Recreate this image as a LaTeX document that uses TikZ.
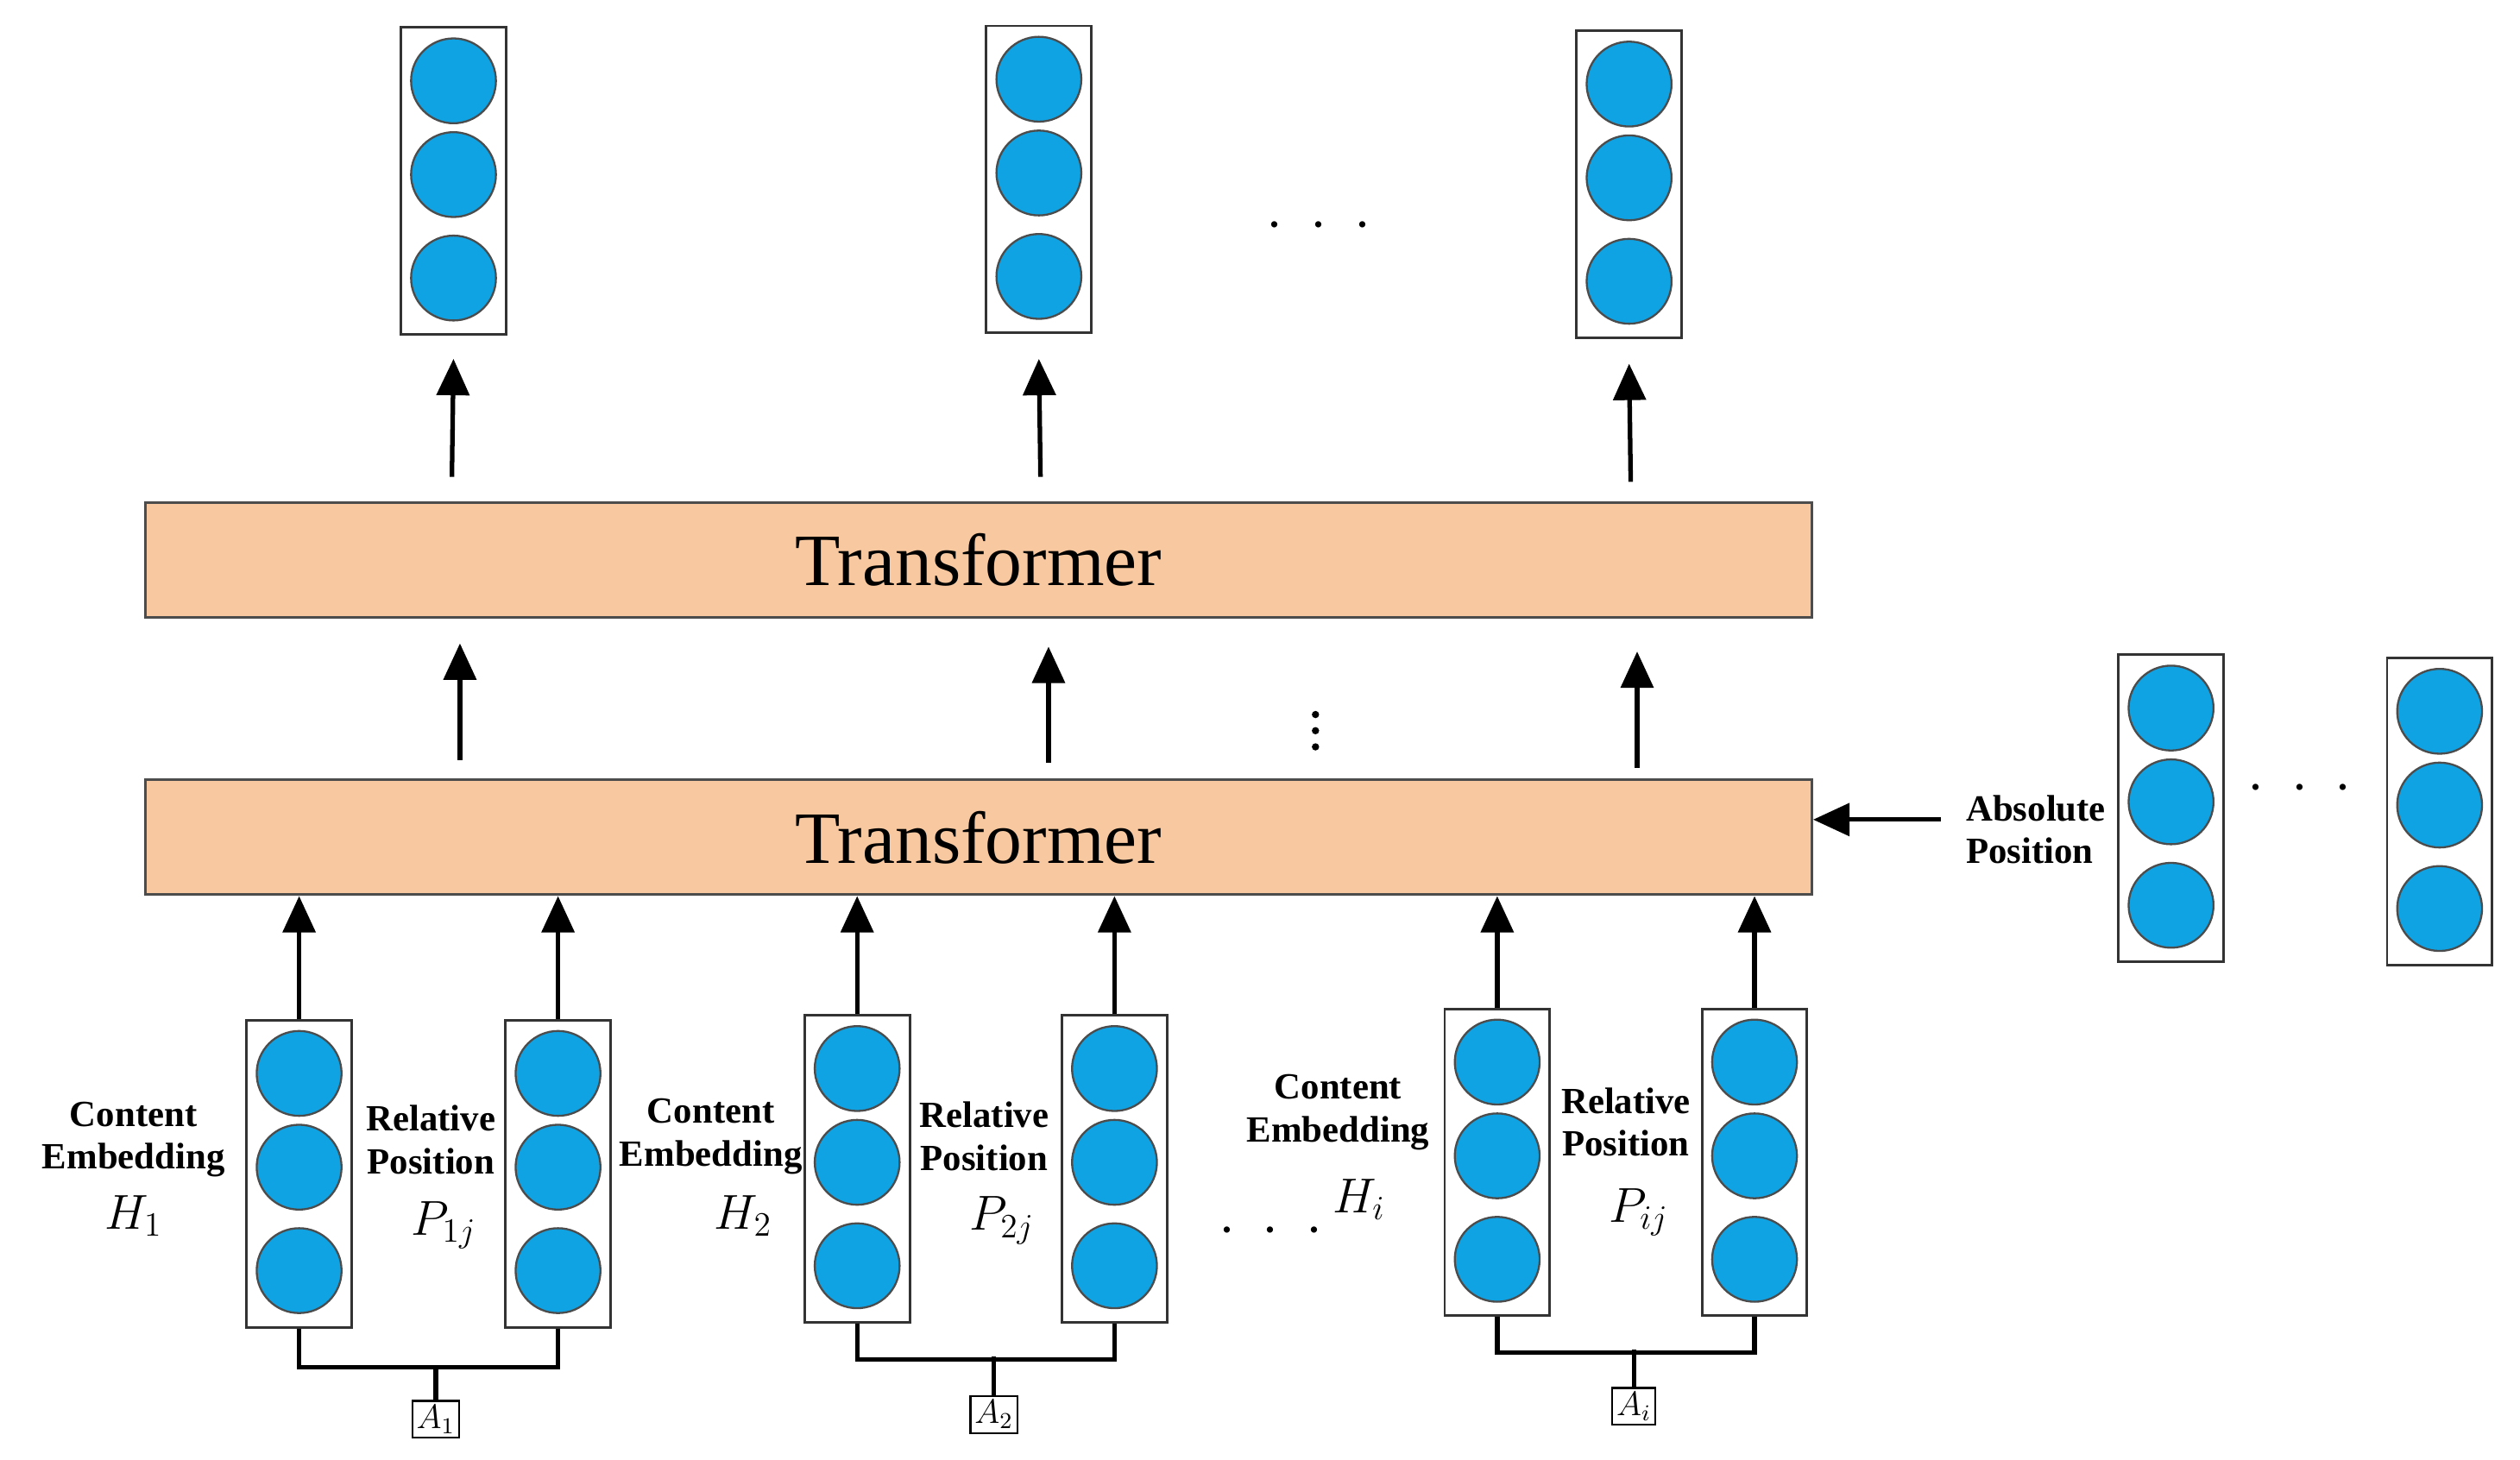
\documentclass[tikz,border=0pt]{standalone}
\usepackage{fontspec}
\setmainfont{Liberation Serif}
\usetikzlibrary{arrows.meta}
\definecolor{cblue}{HTML}{0FA3E4}
\definecolor{peach}{HTML}{F8C9A0}
\tikzset{
 col/.style={draw=black!80,line width=0.9pt,fill=white,minimum width=1.3cm,minimum height=3.8cm,inner sep=0},
 dot/.style={circle,draw=black!70,line width=0.7pt,fill=cblue,minimum size=1.05cm,inner sep=0},
 tr/.style={draw=black!70,line width=0.9pt,fill=peach,minimum width=20.62cm,minimum height=1.42cm,font=\fontsize{26}{28}\selectfont},
 arr/.style={-{Triangle[length=0.45cm,width=0.4cm]},line width=1.6pt},
 lbl/.style={font=\fontsize{13}{15}\selectfont\bfseries,align=center,inner sep=0},
 mth/.style={font=\fontsize{17}{19}\selectfont,inner sep=0},
 abox/.style={draw,line width=0.7pt,inner sep=1.5pt,font=\fontsize{12}{14}\selectfont},
 brk/.style={line width=1.6pt},
 sdot/.style={circle,fill=black,inner sep=0,minimum size=0.09cm}
}
\newcommand{\mycol}[3]{% name, x, ytop
 \node[col] (#1) at (#2,#3+95) {};
 \node[dot] (#1a) at (#2,#3+33) {};
 \node[dot] (#1b) at (#2,#3+91) {};
 \node[dot] (#1c) at (#2,#3+155) {};
}
\begin{document}
\begin{tikzpicture}[x=0.0199cm,y=-0.02cm]
\useasboundingbox (0,0) rectangle (1567,903);
\mycol{o1}{282}{17}
\mycol{o2}{646}{16}
\mycol{o3}{1013}{19}
\node[font=\fontsize{20}{22}\selectfont] (d1) at (820,140) {$\cdot\ \cdot\ \cdot$};
\node[tr] (T2) at (608.5,346.5) {Transformer};
\node[tr] (T1) at (608.5,518) {Transformer};
\draw[arr] (281,295) -- (o1.south |- 0,222);
\draw[arr] (647,295) -- (o2.south |- 0,222);
\draw[arr] (1014,298) -- (o3.south |- 0,225);
\draw[arr] (286,470) -- (286,398);
\draw[arr] (652,472) -- (652,400);
\draw[arr] (1018,475) -- (1018,403);
\node[sdot] (v1) at (818,442) {};
\node[sdot] (v2) at (818,452) {};
\node[sdot] (v3) at (818,462) {};
\mycol{p1}{1350}{405}
\mycol{p2}{1517}{407}
\node[font=\fontsize{20}{22}\selectfont] (d2) at (1430,488) {$\cdot\ \cdot\ \cdot$};
\node[lbl,align=left] (abs) at (1266,513) {Absolute\\Position};
\coordinate (absS) at (1207,507);
\draw[arr] (absS) -- (T1.east |- absS);
\mycol{h1}{186}{631}
\mycol{r1}{347}{631}
\mycol{h2}{533}{628}
\mycol{r2}{693}{628}
\mycol{h3}{931}{624}
\mycol{r3}{1091}{624}
\foreach \n in {h1,r1,h2,r2,h3,r3}
  \draw[arr] (\n.north) -- (\n.north |- T1.south);
\node[abox] (A1) at (271,878) {$A_1$};
\node[abox] (A2) at (618,875) {$A_2$};
\node[abox] (A3) at (1016,870) {$A_i$};
\draw[brk] (h1.south) -- ++(0,24) -| (r1.south);
\draw[brk] (A1.north) -- (A1.north |- 0,845);
\draw[brk] (h2.south) -- ++(0,22) -| (r2.south);
\draw[brk] (A2.north) -- (A2.north |- 0,839);
\draw[brk] (h3.south) -- ++(0,22) -| (r3.south);
\draw[brk] (A3.north) -- (A3.north |- 0,835);
\node[lbl] (ce1) at (83,705) {Content\\Embedding};
\node[mth] (H1) at (83,752) {$H_1$};
\node[lbl] (rp1) at (268,705) {Relative\\Position};
\node[mth] (P1) at (276,758) {$P_{1j}$};
\node[lbl] (ce2) at (442,703) {Content\\Embedding};
\node[mth] (H2) at (462,752) {$H_2$};
\node[lbl] (rp2) at (612,703) {Relative\\Position};
\node[mth] (P2) at (623,755) {$P_{2j}$};
\node[font=\fontsize{20}{22}\selectfont] (d3) at (790,762) {$\cdot\ \cdot\ \cdot$};
\node[lbl] (ce3) at (832,688) {Content\\Embedding};
\node[mth] (H3) at (845,742) {$H_i$};
\node[lbl] (rp3) at (1011,694) {Relative\\Position};
\node[mth] (P3) at (1019,750) {$P_{ij}$};
\end{tikzpicture}
\end{document}
